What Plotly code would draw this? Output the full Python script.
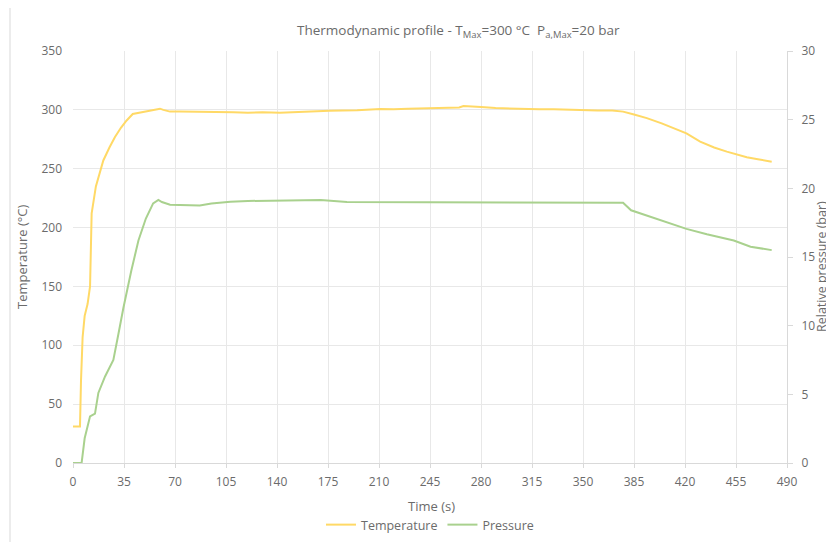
import plotly.graph_objects as go

# Temperature series (°C)
temp_time = [0, 4.8, 5.5, 6.6, 8, 10, 11.7, 12.8, 15.7, 18, 20.8, 25, 28.8, 33, 36.8, 41, 45,
             50.5, 55, 59.7, 62, 66.6, 73, 80, 90, 100, 110, 120, 130, 142, 150, 160, 176, 185,
             195, 211, 220, 230, 240, 250, 260, 265, 268, 275, 280, 290, 300, 310, 320, 330,
             340, 350, 360, 370, 377.5, 385, 393.8, 404, 414.4, 421, 430.4, 440, 448.7, 456,
             462.4, 470, 479.5]
temp_vals = [31, 31, 70, 107, 125, 135, 150, 212, 235, 246, 257, 268, 277, 285, 291, 296.5, 297.5,
             299, 300, 301, 300, 298.5, 298.5, 298.5, 298, 298, 298, 297.5, 298, 297.5, 298, 298.5,
             299.3, 299.5, 299.7, 300.7, 300.5, 301, 301.2, 301.5, 302, 302, 303.3, 302.5, 302.5,
             301.5, 301, 301, 300.5, 300.5, 300, 300, 299.5, 299.5, 298.5, 296, 293, 288.5,
             283.5, 280, 273, 268, 264.5, 262, 259.7, 258, 256]

# Pressure series (bar)
pres_time = [0, 5.9, 8, 11.7, 15.1, 17.4, 22, 27.7, 31, 34.6, 40, 44.9, 50, 55, 58.6, 61, 66.6,
             75, 87, 95, 108, 120, 142, 170, 188, 220, 250, 280, 310, 340, 377.5, 383, 393.8,
             410, 421, 435, 453.5, 465, 479.5]
pres_vals = [0, 0, 1.8, 3.4, 3.6, 5.1, 6.3, 7.5, 9.3, 11.3, 14.0, 16.2, 17.8, 18.9, 19.15, 19.0,
             18.8, 18.8, 18.75, 18.9, 19.03, 19.08, 19.1, 19.15, 19.0, 19.0, 19.0, 19.0, 18.95,
             18.95, 18.95, 18.4, 18.0, 17.45, 17.05, 16.65, 16.2, 15.75, 15.5]

x_ticks = list(range(0, 491, 35))
y_ticks = list(range(0, 351, 50))
y2_ticks = list(range(0, 31, 5))

FONT = "Open Sans"
TXT = "#6b6b6b"
GRID = "#e8e8e8"

fig = go.Figure()
fig.add_trace(go.Scatter(x=temp_time, y=temp_vals, mode="lines", name="Temperature",
                         line=dict(color="#FFD966", width=2)))
fig.add_trace(go.Scatter(x=pres_time, y=pres_vals, mode="lines", name="Pressure",
                         line=dict(color="#A9D18E", width=2), yaxis="y2"))

# page body adds an 8px offset; work in screen pixels and compensate
OFF = 8
W, H = 834 - OFF, 542 - OFF
PL, PR, PT, PB = 73, 787, 51, 463  # plot area in screen pixels
L, R, T, B = PL - OFF, W - (PR - OFF), PT - OFF, H - (PB - OFF)
pw, ph = PR - PL, PB - PT

def px_x(px):
    return (px - PL) / pw

def px_y(py):
    return (PB - py) / ph

fig.update_layout(
    width=W, height=H,
    margin=dict(l=L, r=R, t=T, b=B, autoexpand=False),
    paper_bgcolor="white", plot_bgcolor="white",
    font=dict(family=FONT, size=12, color=TXT),
    showlegend=True,
    legend=dict(orientation="h", x=0.5, xanchor="center", y=px_y(525), yanchor="middle",
                font=dict(size=12.5, color=TXT), tracegroupgap=0),
    xaxis=dict(range=[0, 490], tickvals=x_ticks, showgrid=True, gridcolor=GRID, zeroline=False,
               showline=True, linecolor="#d9d9d9", ticks="outside", ticklen=4, tickcolor="#d9d9d9",
               tickfont=dict(size=12, color=TXT), ticklabelstandoff=4),
    yaxis=dict(range=[0, 350], tickvals=y_ticks, showgrid=True, gridcolor=GRID, zeroline=False,
               showline=False, ticks="", tickfont=dict(size=12, color=TXT), ticklabelstandoff=10),
    yaxis2=dict(range=[0, 30], tickvals=y2_ticks, overlaying="y", side="right", showgrid=False,
                zeroline=False, showline=True, linecolor="#d9d9d9", ticks="outside", ticklen=5,
                tickcolor="#d9d9d9", tickfont=dict(size=12, color=TXT), ticklabelstandoff=6),
    shapes=[dict(type="rect", xref="paper", yref="paper", x0=px_x(10), x1=px_x(900),
                 y0=px_y(600), y1=px_y(5), line=dict(color="#d9d9d9", width=1), layer="below")],
    annotations=[
        dict(text="Thermodynamic profile - T<sub>Max</sub>=300 °C  P<sub>a,Max</sub>=20 bar",
             xref="paper", yref="paper", x=px_x(458), y=px_y(31), showarrow=False,
             xanchor="center", yanchor="middle", font=dict(size=13.5, color=TXT)),
        dict(text="Time (s)", xref="paper", yref="paper", x=px_x(431), y=px_y(506),
             showarrow=False, xanchor="center", yanchor="middle", font=dict(size=13, color=TXT)),
        dict(text="Temperature (°C)", xref="paper", yref="paper", x=px_x(22), y=px_y(257),
             showarrow=False, xanchor="center", yanchor="middle", textangle=-90,
             font=dict(size=13, color=TXT)),
        dict(text="Relative pressure (bar)", xref="paper", yref="paper", x=px_x(821), y=px_y(267),
             showarrow=False, xanchor="center", yanchor="middle", textangle=-90,
             font=dict(size=12.5, color=TXT)),
    ],
)

fig.write_html("out.html")
